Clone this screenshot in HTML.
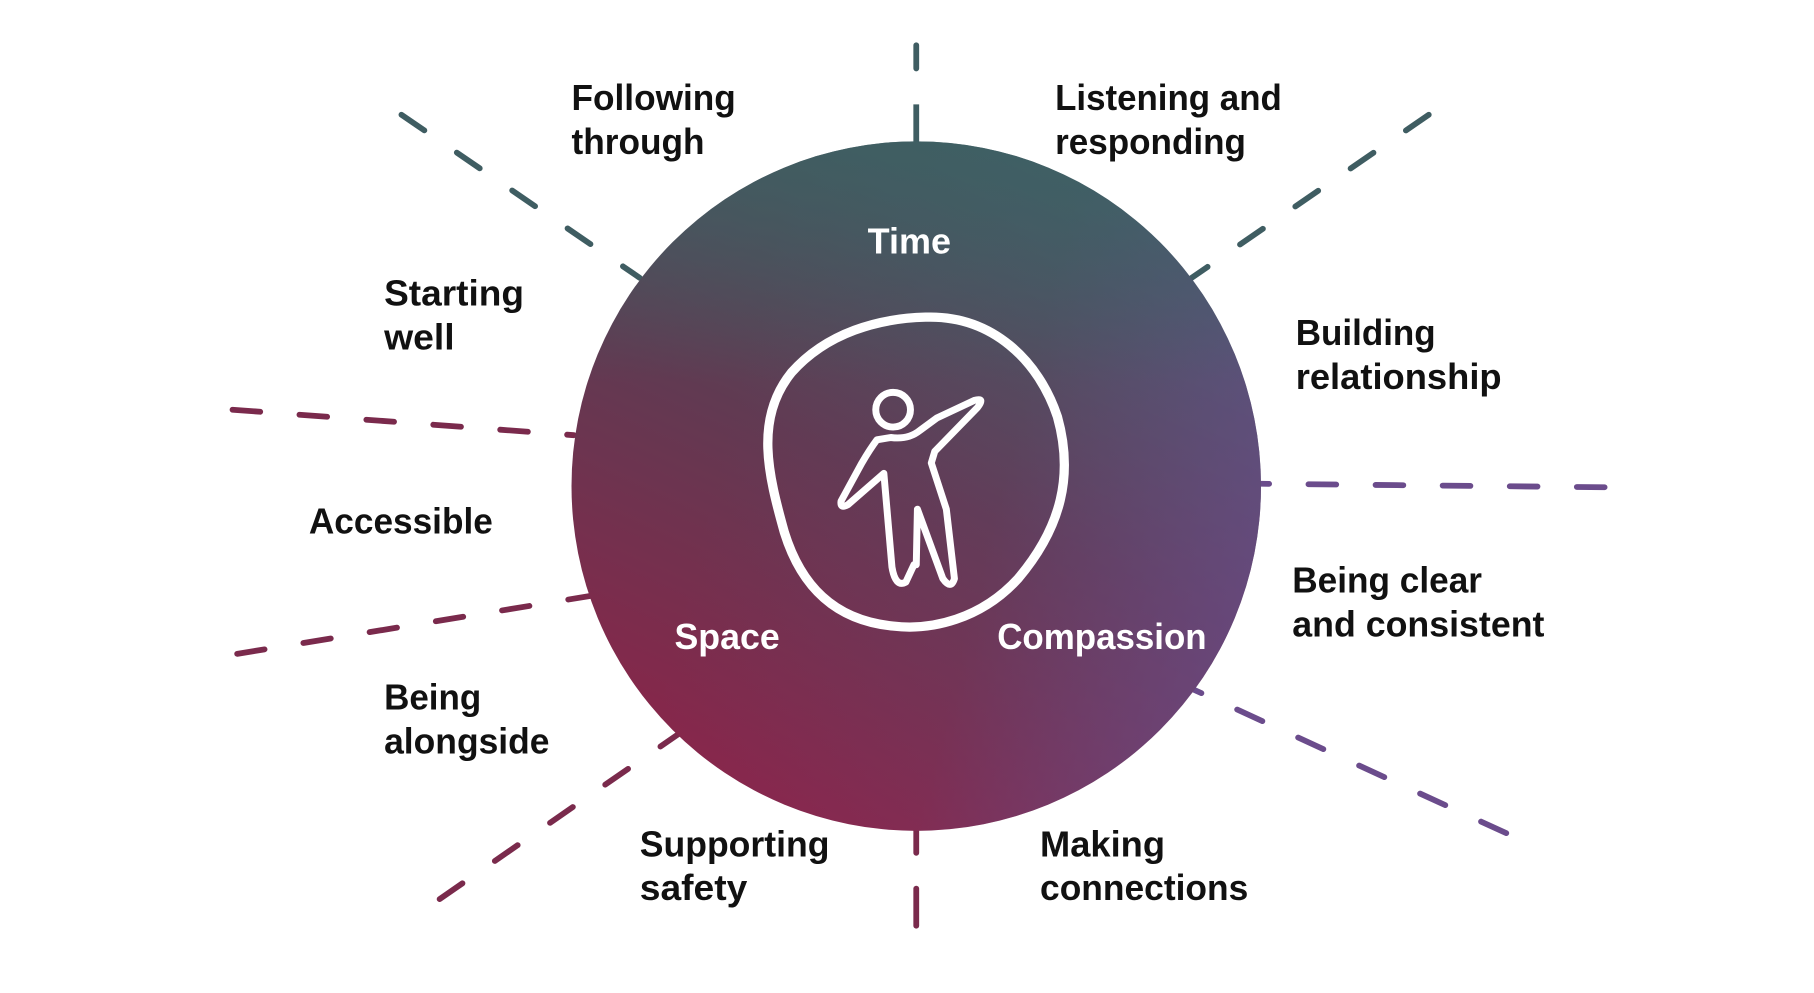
<!DOCTYPE html>
<html><head><meta charset="utf-8"><style>
html,body{margin:0;padding:0;background:#fff;width:1814px;height:993px;overflow:hidden}
svg{display:block}
text{font-family:"Liberation Sans",sans-serif;font-weight:bold;font-size:31px;fill:#111}
.w{fill:#fff}
</style></head><body>
<svg width="1814" height="993" viewBox="0 0 1568 858" xmlns="http://www.w3.org/2000/svg">
<defs>
<linearGradient id="g1" x1="0.3" y1="0.95" x2="0.7" y2="0.05">
<stop offset="0" stop-color="#88264a"/>
<stop offset="0.5" stop-color="#613a52"/>
<stop offset="1" stop-color="#3f5f63"/>
</linearGradient>
<linearGradient id="g2" x1="0.2" y1="0.5" x2="1" y2="0.7">
<stop offset="0" stop-color="#6a4e8e" stop-opacity="0"/>
<stop offset="0.5" stop-color="#6a4e8e" stop-opacity="0.12"/>
<stop offset="1" stop-color="#6a4e8e" stop-opacity="0.7"/>
</linearGradient>
<linearGradient id="g3" x1="0" y1="0" x2="0" y2="1">
<stop offset="0" stop-color="#3d6062" stop-opacity="0.7"/>
<stop offset="0.35" stop-color="#3d6062" stop-opacity="0"/>
</linearGradient>
</defs>
<g fill="none" stroke-width="5" stroke-linecap="round" stroke-dasharray="24 34">
<line x1="792" y1="39" x2="792" y2="59" stroke="#3f5d62" stroke-dasharray="none"/>
<line x1="792" y1="90" x2="792" y2="124" stroke="#3f5d62" stroke-dasharray="none" stroke-linecap="butt"/>
<line x1="347" y1="99" x2="553" y2="240" stroke="#3f5d62"/>
<line x1="1235" y1="99" x2="1030" y2="240" stroke="#3f5d62"/>
<line x1="201" y1="354" x2="496" y2="376" stroke="#7a2a4c"/>
<line x1="205" y1="565" x2="510" y2="515" stroke="#7a2a4c"/>
<line x1="1387" y1="421" x2="1090" y2="418" stroke="#6b4c8c"/>
<line x1="1302" y1="720" x2="1032" y2="596" stroke="#6b4c8c"/>
<line x1="380" y1="777" x2="587" y2="634" stroke="#7a2a4c"/>
<line x1="792" y1="716" x2="792" y2="737" stroke="#7a2a4c" stroke-dasharray="none"/>
<line x1="792" y1="768" x2="792" y2="800" stroke="#7a2a4c" stroke-dasharray="none"/>
</g>
<circle cx="792" cy="420" r="298" fill="url(#g1)"/>
<circle cx="792" cy="420" r="298" fill="url(#g2)"/>
<circle cx="792" cy="420" r="298" fill="url(#g3)"/>
<path d="M800,274 C858,272 898,312 914,360 C928,410 918,455 880,500 C848,535 805,545 772,541 C720,536 692,505 678,460 C664,410 652,362 684,322 C715,287 760,275 800,274 Z" fill="none" stroke="#fff" stroke-width="8"/>
<circle cx="772" cy="354" r="15" fill="none" stroke="#fff" stroke-width="6"/>
<path d="M758,380 Q752,388 745,400 L727,433 Q726,440 733,436 L764,409 L771,490 Q774,508 783,503 L790,488 L792,488 L793,440 L815,500 Q822,510 825,500 L818,440 L805,400 L808,390 L845,352 Q852,343 842,346 L810,361 L795,372 Q785,380 770,378 Z" fill="none" stroke="#fff" stroke-width="6" stroke-linejoin="round"/>
<text class="w" x="750" y="219" textLength="72" lengthAdjust="spacingAndGlyphs">Time</text>
<text class="w" x="583" y="561" textLength="91" lengthAdjust="spacingAndGlyphs">Space</text>
<text class="w" x="862" y="561" textLength="181" lengthAdjust="spacingAndGlyphs">Compassion</text>
<text x="494" y="95" textLength="142" lengthAdjust="spacingAndGlyphs">Following</text>
<text x="494" y="133" textLength="115" lengthAdjust="spacingAndGlyphs">through</text>
<text x="912" y="95" textLength="196" lengthAdjust="spacingAndGlyphs">Listening and</text>
<text x="912" y="133" textLength="165" lengthAdjust="spacingAndGlyphs">responding</text>
<text x="332" y="264" textLength="121" lengthAdjust="spacingAndGlyphs">Starting</text>
<text x="332" y="302" textLength="61" lengthAdjust="spacingAndGlyphs">well</text>
<text x="1120" y="298" textLength="121" lengthAdjust="spacingAndGlyphs">Building</text>
<text x="1120" y="336" textLength="178" lengthAdjust="spacingAndGlyphs">relationship</text>
<text x="267" y="461" textLength="159" lengthAdjust="spacingAndGlyphs">Accessible</text>
<text x="1117" y="512" textLength="164" lengthAdjust="spacingAndGlyphs">Being clear</text>
<text x="1117" y="550" textLength="218" lengthAdjust="spacingAndGlyphs">and consistent</text>
<text x="332" y="613" textLength="84" lengthAdjust="spacingAndGlyphs">Being</text>
<text x="332" y="651" textLength="143" lengthAdjust="spacingAndGlyphs">alongside</text>
<text x="553" y="740" textLength="164" lengthAdjust="spacingAndGlyphs">Supporting</text>
<text x="553" y="778" textLength="93" lengthAdjust="spacingAndGlyphs">safety</text>
<text x="899" y="740" textLength="108" lengthAdjust="spacingAndGlyphs">Making</text>
<text x="899" y="778" textLength="180" lengthAdjust="spacingAndGlyphs">connections</text>
</svg>
</body></html>
